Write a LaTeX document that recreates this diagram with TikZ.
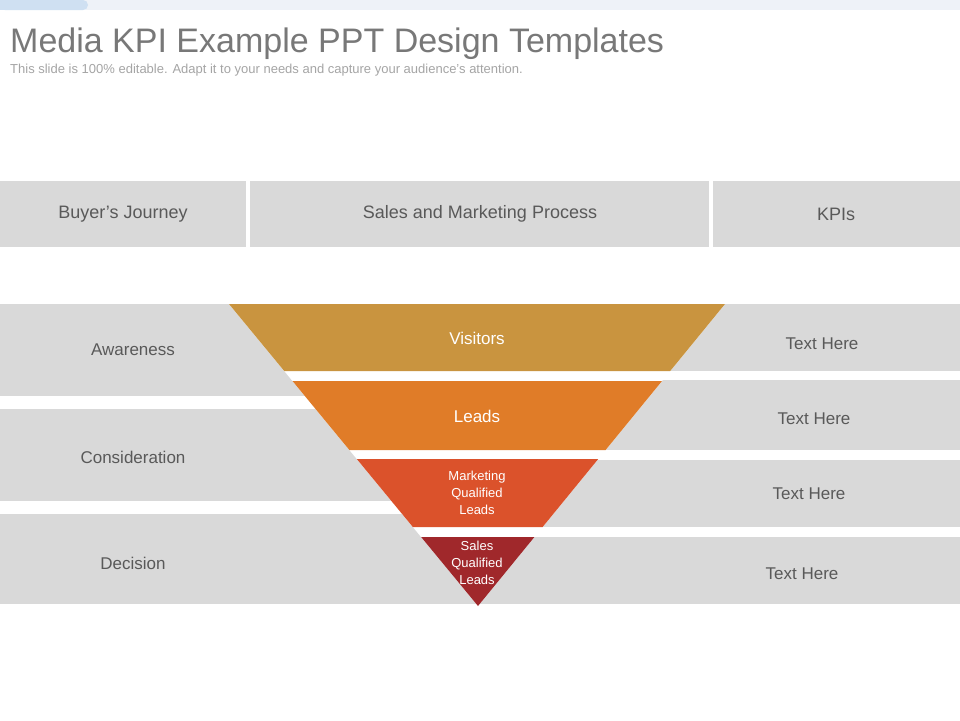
\documentclass[tikz,border=0pt]{standalone}
\usepackage{fontspec}
\setmainfont{Liberation Sans}
\definecolor{gbar}{HTML}{D9D9D9}
\definecolor{cvis}{HTML}{C9943F}
\definecolor{clead}{HTML}{E07C28}
\definecolor{cmql}{HTML}{DB522B}
\definecolor{csql}{HTML}{A0282B}
\definecolor{txt}{HTML}{595959}
\definecolor{topbar}{HTML}{EEF2F8}
\definecolor{toppill}{HTML}{CFE0F2}
\begin{document}
\begin{tikzpicture}[x=1pt,y=-1pt,
  lbl/.style={text=txt,font=\fontsize{17}{20}\selectfont},
  hdr/.style={text=txt,font=\fontsize{18}{22}\selectfont},
  fl/.style={text=white,font=\fontsize{17}{20}\selectfont},
  fs/.style={text=white,font=\fontsize{13}{17}\selectfont,align=center}]
\useasboundingbox (0,0) rectangle (960,720);
\fill[white] (0,0) rectangle (960,720);
\fill[topbar] (0,0) rectangle (960,10);
\fill[toppill,rounded corners=5pt] (0,0) rectangle (88,10);
\fill[toppill] (0,0) rectangle (80,10);
\node[anchor=base west,inner sep=0,text={rgb,255:red,120;green,120;blue,120},font=\fontsize{34}{40}\selectfont] (title) at (10,52) {Media KPI Example PPT Design Templates};
\node[anchor=base west,inner sep=0,text={rgb,255:red,165;green,165;blue,165},font=\fontsize{13}{16}\selectfont] (sub) at (10,73) {This slide is 100\% editable. Adapt it to your needs and capture your audience's attention.};
% headers
\fill[gbar] (0,181) rectangle (246,247);
\fill[gbar] (250,181) rectangle (709,247);
\fill[gbar] (713,181) rectangle (960,247);
\node[hdr] (h1) at (123,214) {Buyer’s Journey};
\node[hdr] (h2) at (480,214) {Sales and Marketing Process};
\node[hdr] (h3) at (836,214) {KPIs};
% left bars
\fill[gbar] (0,304) rectangle (480,396);
\fill[gbar] (0,409) rectangle (480,501);
\fill[gbar] (0,514) rectangle (480,604);
% right bars
\fill[gbar] (480,304) rectangle (960,371);
\fill[gbar] (480,380) rectangle (960,450);
\fill[gbar] (480,460) rectangle (960,527);
\fill[gbar] (480,537) rectangle (960,604);
% funnel
\fill[white] (229,304) -- (725,304) -- (478,606) -- cycle;
\def\fband#1#2#3{\fill[#3] ({229+(#1-304)*0.8245},#1) -- ({725-(#1-304)*0.8179},#1) -- ({725-(#2-304)*0.8179},#2) -- ({229+(#2-304)*0.8245},#2) -- cycle;}
\fband{304}{371}{cvis}
\fband{381}{450}{clead}
\fband{459}{527}{cmql}
\fill[csql] ({229+(537-304)*0.8245},537) -- ({725-(537-304)*0.8179},537) -- (478,606) -- cycle;
\node[fl] (vis) at (477,338) {Visitors};
\node[fl] (lead) at (477,416) {Leads};
\node[fs] (mql) at (477,493) {Marketing\\Qualified\\Leads};
\node[fs] (sql) at (477,563) {Sales\\Qualified\\Leads};
% labels
\node[lbl] (aw) at (133,350) {Awareness};
\node[lbl] (co) at (133,457) {Consideration};
\node[lbl] (de) at (133,563) {Decision};
\node[lbl] (t1) at (822,344) {Text Here};
\node[lbl] (t2) at (814,419) {Text Here};
\node[lbl] (t3) at (809,494) {Text Here};
\node[lbl] (t4) at (802,574) {Text Here};
\end{tikzpicture}
\end{document}
